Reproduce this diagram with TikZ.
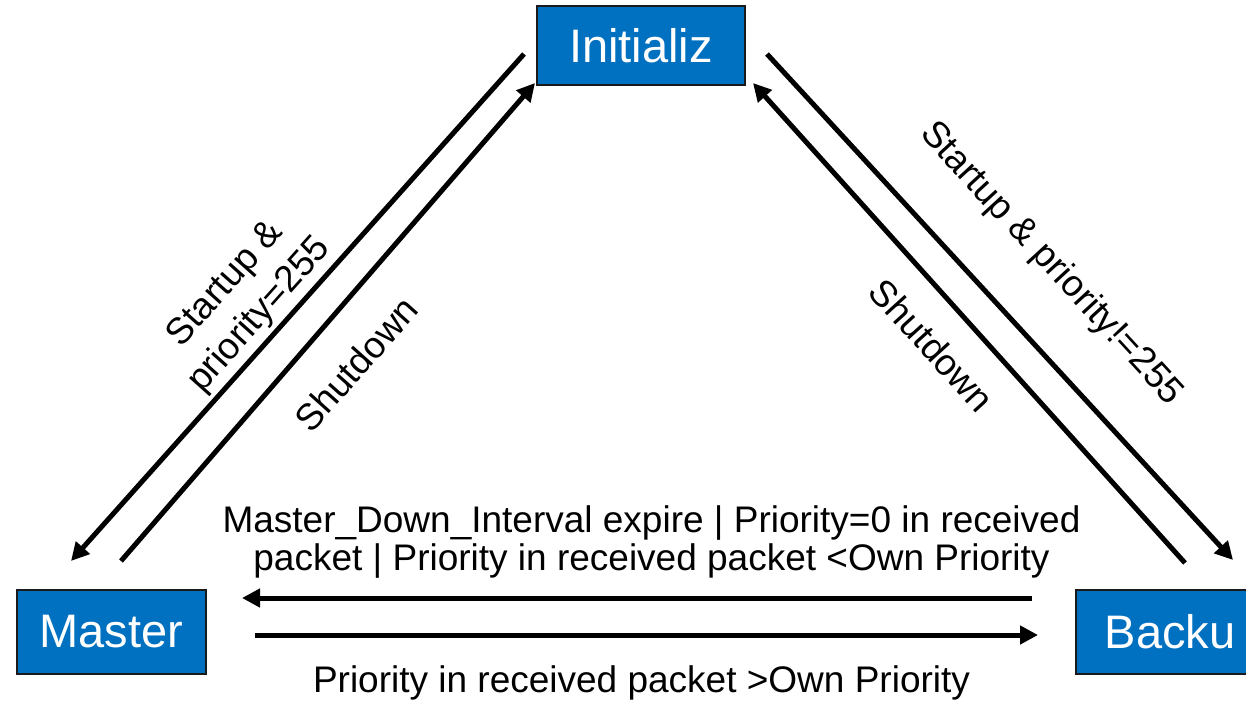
\documentclass[tikz,border=0pt]{standalone}
\usepackage{fontspec}
\setmainfont{Liberation Sans}
\usetikzlibrary{arrows.meta}
\definecolor{boxblue}{HTML}{0070C0}
\definecolor{boxline}{HTML}{1A1A1A}
\tikzset{
  state/.style={draw=boxline, line width=1.5pt, fill=boxblue, text=white,
    inner sep=0pt, font=\fontsize{47}{52}\selectfont},
  trans/.style={line width=5pt, -{Triangle[length=18pt,width=18pt]}},
  lbl/.style={inner sep=0pt, font=\fontsize{37}{42}\selectfont, align=center},
}
\begin{document}
\begin{tikzpicture}[x=1pt,y=-1pt]
\useasboundingbox (0,0) rectangle (1246,703);
\clip (0,0) rectangle (1246,703);
\fill[white] (0,0) rectangle (1246,703);
% states
\node[state, minimum width=208pt, minimum height=79pt] (init) at (641,45.5) {Initializ};
\node[state, minimum width=189pt, minimum height=84pt] (master) at (111.5,632) {Master};
\node[state, minimum width=188pt, minimum height=84pt] (backup) at (1170,632) {Backu};
% connector ends
\coordinate (a1s) at (524,54);   \coordinate (a1e) at (71,561);
\coordinate (a2s) at (121,561);  \coordinate (a2e) at (535,83);
\coordinate (a3s) at (1185,563); \coordinate (a3e) at (753,83);
\coordinate (a4s) at (767,54);   \coordinate (a4e) at (1233,560);
\coordinate (h1s) at (1032,598); \coordinate (h1e) at (242,598);
\coordinate (h2s) at (255,635);  \coordinate (h2e) at (1038,635);
% connectors
\draw[trans] (a1s) -- (a1e);
\draw[trans] (a2s) -- (a2e);
\draw[trans] (a3s) -- (a3e);
\draw[trans] (a4s) -- (a4e);
\draw[trans] (h1s) -- (h1e);
\draw[trans] (h2s) -- (h2e);
% labels
\node[lbl, rotate=48.2, font=\fontsize{37}{46}\selectfont] (l1) at (243,300) {Startup \&\\priority=255};
\node[lbl, rotate=48.2] (l2) at (356,364) {Shutdown};
\node[lbl, rotate=-47.7] (l3) at (932,345) {Shutdown};
\node[lbl, rotate=-47.4] (l4) at (1051,264) {Startup \& priority!=255};
\node[lbl, anchor=base] (l5) at (651.5,532) {Master\_Down\_Interval expire | Priority=0 in received};
\node[lbl, anchor=base] (l6) at (651.5,570) {packet | Priority in received packet <Own Priority};
\node[lbl, anchor=base] (l7) at (641.5,692) {Priority in received packet >Own Priority};
\end{tikzpicture}
\end{document}
